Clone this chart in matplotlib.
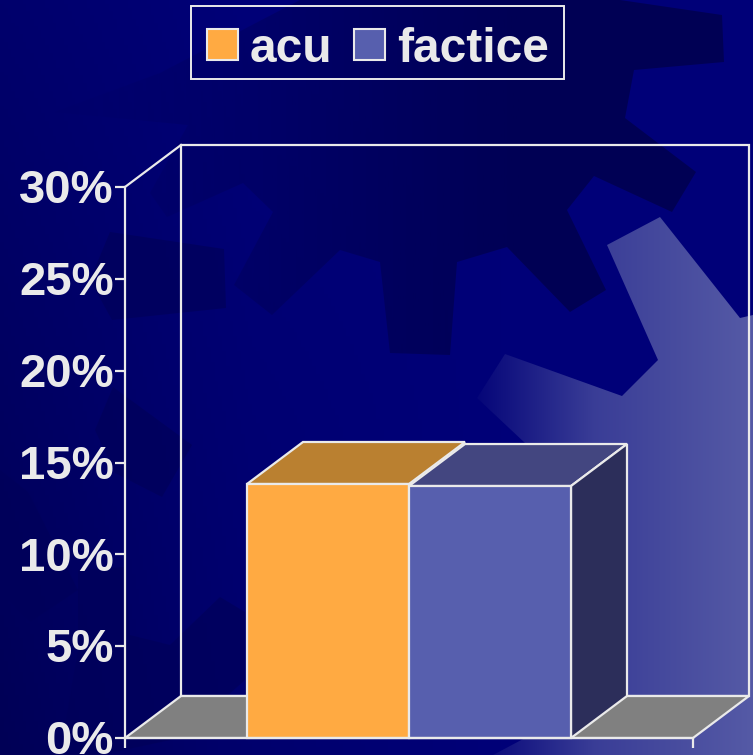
import numpy as np
import matplotlib
matplotlib.use('Agg')
import matplotlib.pyplot as plt
from matplotlib.patches import Polygon, Patch, Rectangle
from matplotlib.transforms import Affine2D, ScaledTranslation

plt.rcParams['font.family'] = ['Liberation Sans', 'DejaVu Sans']

# chart data
series = ['acu', 'factice']
values = [13.83, 13.72]
bar_colors = ['#FFAA42', '#575FAE']
top_colors = ['#BA8030', '#434680']
side_color = '#2C2E5A'
y_ticks = [0, 5, 10, 15, 20, 25, 30]
y_labels = ['0%', '5%', '10%', '15%', '20%', '25%', '30%']

line_color = '#EAEAEA'
W, H = 753, 755
fig = plt.figure(figsize=(W / 100, H / 100), dpi=100)

# background picture, in pixel coordinates
bg = fig.add_axes([0, 0, 1, 1], zorder=0)
bg.axis('off')

xx, yy = np.meshgrid(np.linspace(0, 1, 200), np.linspace(0, 1, 200))
blue = 120 - 12 * np.clip(1 - xx * 3, 0, 1) - 22 * yy * np.clip(1 - xx * 1.5, 0, 1)
rgb = np.dstack([np.zeros_like(blue), np.zeros_like(blue), blue]) / 255
bg.imshow(rgb, extent=(0, W, H, 0), aspect='auto', zorder=0)

dark_gear = [(188, 125), (150, 193), (167, 217), (243, 183), (273, 212), (234, 285), (272, 315),
             (340, 250), (380, 262), (390, 353), (450, 355), (457, 262), (507, 247), (570, 312),
             (606, 290), (567, 210), (594, 176), (672, 212), (696, 172), (625, 118), (634, 70),
             (724, 62), (722, 15), (620, 0), (300, 0), (160, 73), (55, 112)]
dark_bits = [
    [(110, 232), (224, 249), (226, 308), (112, 320), (90, 280)],
    [(113, 387), (192, 445), (162, 497), (115, 473), (95, 430)],
    [(0, 470), (28, 492), (78, 590), (30, 622), (0, 590)],
    [(78, 570), (125, 567), (130, 635), (170, 645), (220, 597), (245, 612), (245, 680),
     (180, 738), (100, 755), (60, 755), (78, 650)],
]

# the top gear fades out towards the left
fade = np.clip((np.linspace(0, W, 300) - 100) / 420, 0, 1) * 0.78 + 0.06
shade = np.zeros((1, 300, 4))
shade[..., 2] = 78 / 255
shade[..., 3] = fade
im_dark = bg.imshow(shade, extent=(0, W, H, 0), aspect='auto', zorder=1)
clip_dark = Polygon(dark_gear, closed=True, transform=bg.transData, fc='none', ec='none')
bg.add_patch(clip_dark)
im_dark.set_clip_path(clip_dark)

for pts in dark_bits:
    bg.add_patch(Polygon(pts, closed=True, fc='#00005A', ec='none', alpha=0.7, zorder=1))

light_gear = [(607, 245), (660, 217), (740, 318), (753, 315), (753, 755), (493, 755), (525, 738),
              (525, 443), (477, 398), (505, 354), (622, 396), (658, 360)]
ramp = np.linspace(0, 1, 300)
ramp = np.where(ramp < 0.45, ramp / 0.45 * 0.68, 0.68 + (ramp - 0.45) / 0.55 * 0.32)
start = np.array([0, 0, 118]) / 255
end = np.array([85, 90, 166]) / 255
grad = start + ramp[None, :, None] * (end - start)
im = bg.imshow(grad, extent=(465, W, H, 0), aspect='auto', zorder=2)
clip = Polygon(light_gear, closed=True, transform=bg.transData, fc='none', ec='none')
bg.add_patch(clip)
im.set_clip_path(clip)

# legend box
bg.add_patch(Rectangle((191, 6), 373, 73, fc='none', ec=line_color, lw=1.4, zorder=3))
bg.set_xlim(0, W)
bg.set_ylim(H, 0)

# front plane of the chart
ax = fig.add_axes([125 / W, 1 - 738 / H, 568 / W, 551 / H], zorder=2)
ax.patch.set_alpha(0)
ax.set_xlim(0, 1)
ax.set_ylim(0, 30)

depth = Affine2D().translate(56, 42)
back = ax.transData + depth
edge = dict(ec=line_color, lw=1.6, clip_on=False, joinstyle='miter')
disp = ax.transData


def oblique(x, y):
    # data point pushed back along the depth axis, back in data coordinates
    return tuple(disp.inverted().transform(depth.transform(disp.transform((x, y)))))


# back wall and floor
ax.add_patch(Polygon([(0, 0), (1, 0), (1, 30), (0, 30)], closed=True, fc='none',
                     transform=back, zorder=1, **edge))
ax.add_patch(Polygon([(0, 0), (1, 0), oblique(1, 0), oblique(0, 0)], closed=True,
                     fc='#808080', zorder=2, **edge))
ax.add_line(plt.Line2D([0, oblique(0, 30)[0]], [30, oblique(0, 30)[1]], color=line_color,
                       lw=1.6, clip_on=False, zorder=2))

# bars
bar_w = 162 / 568
x0 = 122 / 568
for i, (v, c, t) in enumerate(zip(values, bar_colors, top_colors)):
    left = x0 + i * bar_w
    right = left + bar_w
    ax.add_patch(Polygon([(left, v), (right, v), oblique(right, v), oblique(left, v)],
                         closed=True, fc=t, zorder=3 + i, **edge))
    if i == len(values) - 1:
        ax.add_patch(Polygon([(right, 0), (right, v), oblique(right, v), oblique(right, 0)],
                             closed=True, fc=side_color, zorder=3 + i, **edge))
    ax.bar(left, v, bar_w, align='edge', color=c, edgecolor=line_color, linewidth=1.6,
           zorder=5 + i, clip_on=False)

# axes
for s in ['top', 'right']:
    ax.spines[s].set_visible(False)
for s in ['left', 'bottom']:
    ax.spines[s].set_color(line_color)
    ax.spines[s].set_linewidth(1.6)
    ax.spines[s].set_zorder(8)
ax.set_xticks([0, 1])
ax.set_xticklabels([])
ax.set_yticks(y_ticks)
ax.set_yticklabels(y_labels, fontsize=34, fontweight='bold', color=line_color)
ax.tick_params(axis='both', color=line_color, width=1.6, length=7)
ax.tick_params(axis='y', pad=1)
up = ScaledTranslation(0, 0.5 / 72, fig.dpi_scale_trans)
for lab in ax.get_yticklabels():
    lab.set_transform(lab.get_transform() + up)

# legend
handles = [Patch(fc=c, ec=line_color, lw=1.5) for c in bar_colors]
leg = fig.legend(handles, series, loc='center', bbox_to_anchor=(378 / W, 1 - 49 / H), ncol=2,
                 frameon=False, prop={'size': 34.5, 'weight': 'bold'}, labelcolor=line_color,
                 handlelength=0.64, handleheight=0.64, handletextpad=0.25, columnspacing=0.45,
                 borderpad=0.33)
leg.set_zorder(5)

fig.savefig('out.png', dpi=100)
